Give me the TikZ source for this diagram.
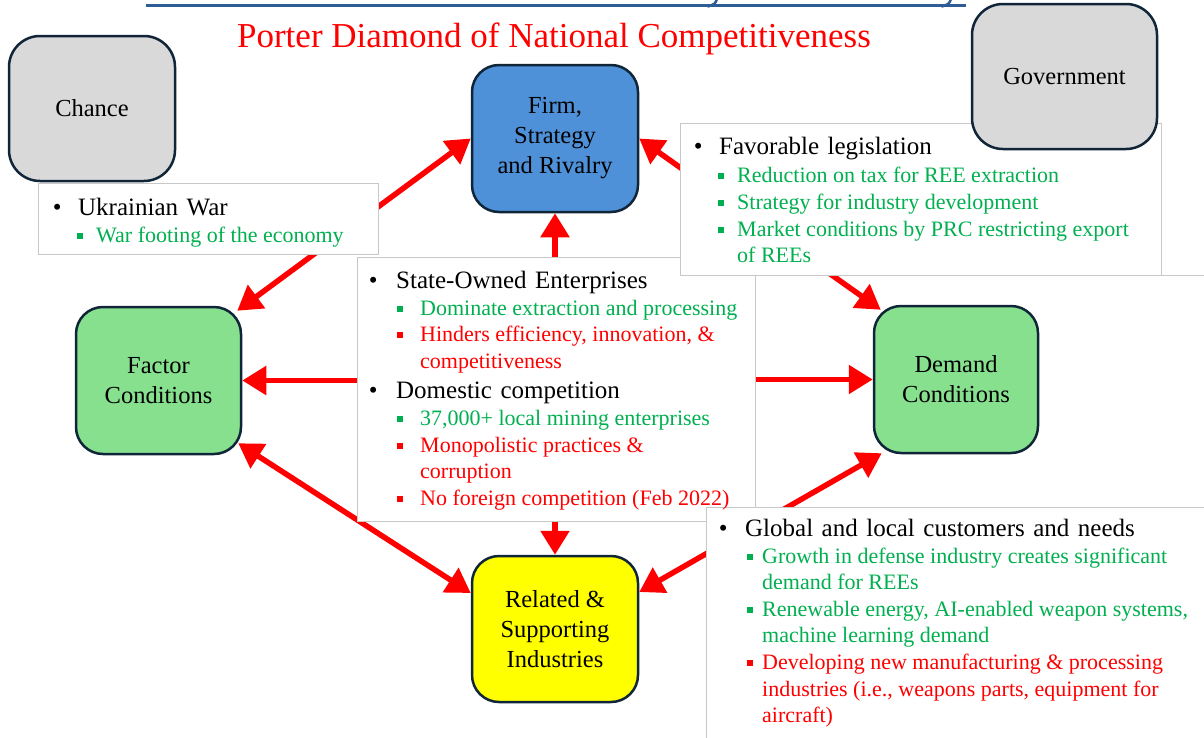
\documentclass[tikz,border=0pt]{standalone}
\usepackage{fontspec}
\setmainfont{Liberation Serif}
\usetikzlibrary{arrows.meta,calc}

\definecolor{navy}{RGB}{16,37,56}
\definecolor{firmblue}{RGB}{78,145,216}
\definecolor{condgreen}{RGB}{134,224,142}
\definecolor{chancegray}{RGB}{217,217,217}
\definecolor{relyellow}{RGB}{255,255,0}
\definecolor{txtgreen}{RGB}{0,176,80}
\definecolor{txtred}{RGB}{255,0,0}
\definecolor{framegray}{RGB}{200,200,200}
\definecolor{rulerblue}{RGB}{46,93,150}

% indents of a bulleted text frame: bullet centre, main text, square, sub text
\newlength\bux \newlength\mnx \newlength\sqx \newlength\sbx
\newcommand\setind[4]{\setlength\bux{#1pt}\setlength\mnx{#2pt}\setlength\sqx{#3pt}\setlength\sbx{#4pt}}
\newcommand\mainsize{\fontsize{25}{30}\selectfont\spaceskip=8.5pt plus 1pt minus 1pt\relax}
\newcommand\subsize{\fontsize{22}{26}\selectfont}
% #1 = distance from the previous baseline
\newcommand\bmain[2]{\baselineskip=#1pt\relax
  \hbox{\mainsize\rlap{\hskip\bux\makebox[0pt]{\textbullet}}\hskip\mnx #2}}
\newcommand\bsub[3]{\baselineskip=#1pt\relax
  \hbox{\subsize\color{#2}\rlap{\hskip\sqx\raisebox{3.5pt}{\rule{6pt}{6pt}}}\hskip\sbx #3}}
\newcommand\bcont[3]{\baselineskip=#1pt\relax
  \hbox{\subsize\color{#2}\hskip\sbx #3}}
\newcommand\bstack[1]{\vtop{\lineskiplimit=-1000pt\lineskip=0pt #1}}

\begin{document}
\begin{tikzpicture}[x=1pt,y=-1pt,
  >={Triangle[length=24pt,width=28pt]},
  force/.style={draw=navy, line width=2.5pt, rounded corners=27pt, align=center,
    inner sep=0pt, font=\fontsize{24.5}{30}\selectfont, minimum width=166pt, minimum height=147pt},
  gray force/.style={force, fill=chancegray, rounded corners=31pt},
  textframe/.style={draw=framegray, line width=1pt, fill=white, anchor=north west, inner sep=0pt},
  frameslot/.style={anchor=north west, inner sep=0pt},
  textstack/.style={anchor=base west, inner sep=0pt},
  arr/.style={draw=txtred, line width=5.5pt}]

\useasboundingbox (0,0) rectangle (1204,737);

% rule and letter tails along the top edge
\draw[rulerblue, line width=3pt] (146,5.5) -- (966,5.5);
\draw[rulerblue, line width=2.5pt, line cap=round] (717,-1) .. controls (715,4) .. (708,6.5);
\draw[rulerblue, line width=2.5pt, line cap=round] (951,-1) .. controls (949,4) .. (942,6.5);

% title
\node[anchor=base, text=txtred, font=\fontsize{35}{40}\selectfont, inner sep=0pt] (title) at (554,47)
  {Porter Diamond of National Competitiveness};

% empty frame behind the demand side
\node[textframe, minimum width=470pt, minimum height=232pt] (dframe) at (755,275) {};

% the four determinants
\node[force, fill=firmblue] (firm) at (555,138.5) {Firm,\\Strategy\\and Rivalry};
\node[force, fill=condgreen, minimum width=165pt] (factor) at (158.5,380.5) {Factor\\Conditions};
\node[force, fill=condgreen, minimum width=164pt] (demand) at (956,379.5) {Demand\\Conditions};
\node[force, fill=relyellow, minimum height=146pt] (related) at (555,629) {Related \&\\Supporting\\Industries};

% slot of the central text frame
\node[frameslot, minimum width=398pt, minimum height=264pt] (state) at (357,257) {};

% connectors
\draw[arr, <->] ($(factor.north east)+(-5,5)$) -- (firm.west);
\draw[arr, <->] (firm.east) -- ($(demand.north west)+(8,5)$);
\draw[arr, <->] ($(factor.south east)+(-4,-12)$) -- ($(related.west)+(0,-36)$);
\draw[arr, <->] ($(related.east)+(0,-37)$) -- ($(demand.south west)+(9,-1)$);
\draw[arr, ->] (firm.south |- state.north) -- (firm.south);
\draw[arr, ->] (state.west |- factor.east) -- (factor.east);
\draw[arr, ->] (state.east |- demand.west) -- (demand.west);
\draw[arr, ->] (related.north |- state.south) -- (related.north);

% text frames
\draw[draw=framegray, line width=1pt, fill=white] (state.north west) rectangle (state.south east);
\node[textframe, minimum width=481pt, minimum height=152pt] (legis) at (680,123) {};
\node[textframe, minimum width=340pt, minimum height=71pt] (ukr) at (38,183) {};
\node[textframe, minimum width=520pt, minimum height=240pt] (glob) at (706,507) {};

% outside forces
\node[gray force, minimum width=166pt, minimum height=145pt] (chance) at (92,108.5) {Chance};
\node[gray force, minimum width=185pt, minimum height=145pt] (gov) at (1064.5,76.5) {Government};

% bulleted texts
\node[textstack] (ukrtext) at ($(ukr.north west)+(0,32)$) {\setind{19}{40}{39}{58}\bstack{
  \bmain{0}{Ukrainian\ War}
  \bsub{27}{txtgreen}{War footing of the economy}}};

\node[textstack] (legistext) at ($(legis.north west)+(0,31)$) {\setind{18}{39}{38}{57}\bstack{
  \bmain{0}{Favorable\ legislation}
  \bsub{28}{txtgreen}{Reduction on tax for REE extraction}
  \bsub{27}{txtgreen}{Strategy for industry development}
  \bsub{27}{txtgreen}{Market conditions by PRC restricting export}
  \bcont{26.5}{txtgreen}{of REEs}}};

\node[textstack] (statetext) at ($(state.north west)+(0,31)$) {\setind{16}{39}{40}{63}\bstack{
  \bmain{0}{State-Owned\ Enterprises}
  \bsub{27}{txtgreen}{Dominate extraction and processing}
  \bsub{26.5}{txtred}{Hinders efficiency, innovation, \&}
  \bcont{26.5}{txtred}{competitiveness}
  \bmain{30}{Domestic\ competition}
  \bsub{27.5}{txtgreen}{37,000+ local mining enterprises}
  \bsub{26.7}{txtred}{Monopolistic practices \&}
  \bcont{26.7}{txtred}{corruption}
  \bsub{26.7}{txtred}{No foreign competition (Feb 2022)}}};

\node[textstack] (globtext) at ($(glob.north west)+(0,29)$) {\setind{17}{39}{41}{56}\bstack{
  \bmain{0}{Global and local customers and needs}
  \bsub{27}{txtgreen}{Growth in defense industry creates significant}
  \bcont{26.6}{txtgreen}{demand for REEs}
  \bsub{26.6}{txtgreen}{Renewable energy, AI-enabled weapon systems,}
  \bcont{26.6}{txtgreen}{machine learning demand}
  \bsub{26.6}{txtred}{Developing new manufacturing \& processing}
  \bcont{26.6}{txtred}{industries (i.e., weapons parts, equipment for}
  \bcont{26.6}{txtred}{aircraft)}}};

\end{tikzpicture}
\end{document}
